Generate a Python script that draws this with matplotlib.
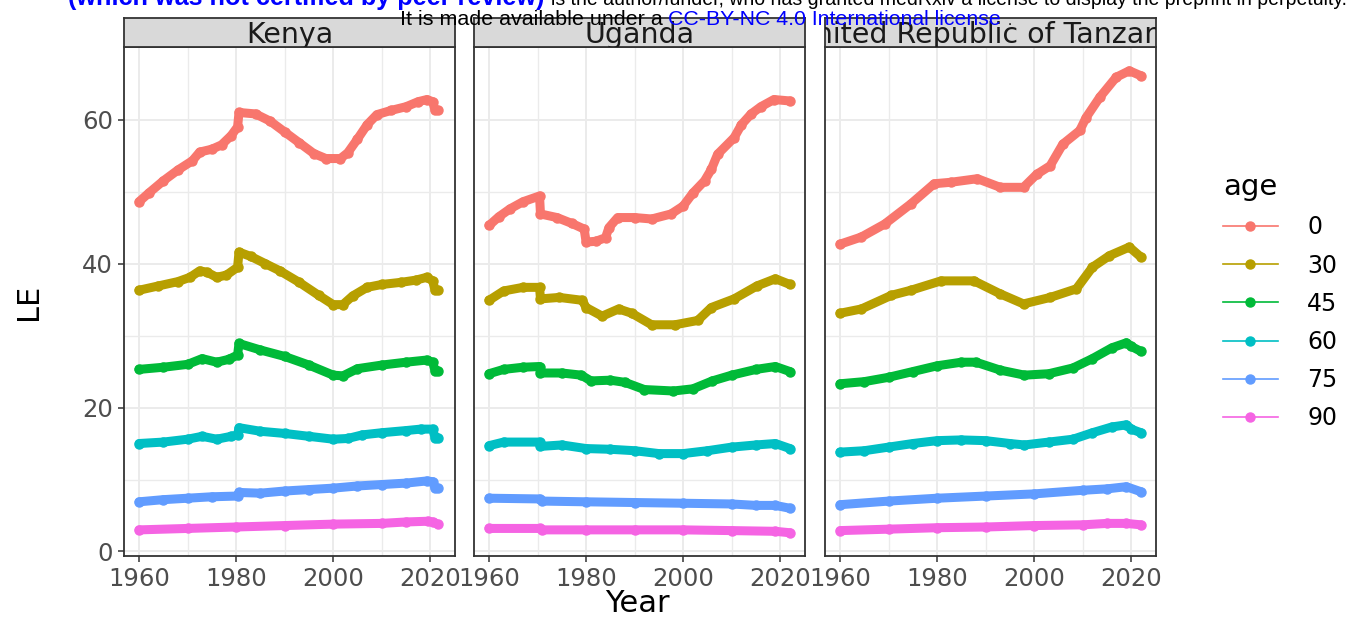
import matplotlib
matplotlib.use('Agg')
import matplotlib.pyplot as plt
from matplotlib.lines import Line2D

W, H, DPI = 1351, 617, 100

countries = ['Kenya', 'Uganda', 'United Republic of Tanzania']
ages = ['0', '30', '45', '60', '75', '90']
age_colors = ['#F8766D', '#B79F00', '#00BA38', '#00BFC4', '#619CFF', '#F564E3']

# life expectancy (year, LE)
ken_0 = [(1960, 48.6), (1962, 49.8), (1965, 51.5), (1968, 53.0), (1971, 54.3), (1972.5, 55.5),
         (1975, 55.9), (1977, 56.5), (1979, 57.8), (1980.3, 59.0), (1980.6, 61.0), (1984, 60.8),
         (1987, 59.8), (1990, 58.3), (1993, 56.8), (1996, 55.3), (1998.5, 54.6), (2001.5, 54.6),
         (2003, 55.4), (2005, 57.3), (2007, 59.3), (2009, 60.7), (2012, 61.3), (2015, 61.8),
         (2017.5, 62.5), (2019.3, 62.8), (2020.5, 62.5), (2021, 61.3), (2021.5, 61.3)]
ken_30 = [(1960, 36.3), (1964, 36.9), (1968, 37.5), (1970.5, 38.1), (1972.5, 39.0), (1974, 38.8),
          (1976, 38.1), (1978, 38.4), (1980.3, 39.5), (1980.6, 41.6), (1983, 41.0), (1986, 40.0),
          (1989, 39.0), (1993, 37.4), (1997, 35.6), (2000, 34.3), (2002, 34.3), (2004, 35.5),
          (2007, 36.7), (2010, 37.1), (2014, 37.4), (2017, 37.7), (2019.3, 38.1), (2020.5, 37.6),
          (2021, 36.3), (2021.5, 36.3)]
ken_45 = [(1960, 25.3), (1965, 25.6), (1970, 26.0), (1973, 26.8), (1976, 26.3), (1978.5, 26.7),
          (1980.3, 27.3), (1980.6, 28.9), (1985, 28.0), (1990, 27.1), (1995, 25.9), (2000, 24.5),
          (2002, 24.4), (2005, 25.4), (2010, 25.9), (2015, 26.3), (2019.3, 26.6), (2020.5, 26.3),
          (2021, 25.1), (2021.5, 25.1)]
ken_60 = [(1960, 15.0), (1965, 15.2), (1970, 15.6), (1973, 16.0), (1976, 15.6), (1979, 16.0),
          (1980.3, 16.2), (1980.6, 17.2), (1985, 16.7), (1990, 16.4), (1995, 16.0), (2000, 15.6),
          (2003, 15.7), (2006, 16.2), (2010, 16.5), (2015, 16.8), (2018, 17.0), (2020.5, 17.0),
          (2021, 15.8), (2021.5, 15.8)]
ken_75 = [(1960, 6.9), (1965, 7.2), (1970, 7.4), (1975, 7.6), (1980.3, 7.7), (1980.6, 8.2),
          (1985, 8.1), (1990, 8.4), (1995, 8.6), (2000, 8.8), (2005, 9.1), (2010, 9.3),
          (2015, 9.5), (2019.3, 9.8), (2020.5, 9.7), (2021, 8.8), (2021.5, 8.8)]
ken_90 = [(1960, 3.0), (1970, 3.2), (1980, 3.4), (1990, 3.6), (2000, 3.8), (2010, 3.9),
          (2015, 4.1), (2019.5, 4.2), (2020.5, 4.1), (2021.5, 3.8)]

uga_0 = [(1960, 45.3), (1962, 46.5), (1964.3, 47.6), (1967, 48.6), (1970.4, 49.4), (1970.6, 46.9),
         (1974, 46.4), (1977, 45.6), (1979.6, 44.8), (1980, 43.0), (1982, 43.1), (1984, 43.6),
         (1984.7, 45.0), (1986.5, 46.4), (1990, 46.4), (1993.5, 46.2), (1997.5, 46.9), (2000, 48.0),
         (2002, 49.8), (2004.4, 51.5), (2005.8, 53.1), (2007.1, 55.2), (2010.5, 57.5), (2012, 59.3),
         (2014, 60.8), (2016, 61.8), (2018.7, 62.8), (2022, 62.6)]
uga_30 = [(1960, 34.9), (1963, 36.2), (1967, 36.7), (1970.4, 36.7), (1970.6, 35.1), (1974.5, 35.3),
          (1979.2, 34.9), (1980, 33.9), (1983.3, 32.7), (1986.7, 33.7), (1989.4, 33.1), (1993.5, 31.5),
          (1998.3, 31.5), (2003, 32.1), (2005.8, 33.9), (2010.5, 35.1), (2015.2, 36.9), (2019, 37.9),
          (2022, 37.1)]
uga_45 = [(1960, 24.7), (1963, 25.3), (1967, 25.6), (1970.4, 25.7), (1970.6, 24.8), (1975, 24.8),
          (1979, 24.5), (1981, 23.7), (1985, 23.8), (1988, 23.5), (1992, 22.5), (1998, 22.3),
          (2002, 22.6), (2006, 23.7), (2010, 24.5), (2015, 25.3), (2019, 25.7), (2022, 25.0)]
uga_60 = [(1960, 14.7), (1963, 15.2), (1970.4, 15.2), (1970.6, 14.6), (1975, 14.8), (1980, 14.3),
          (1985, 14.2), (1990, 14.0), (1995, 13.6), (2000, 13.6), (2005, 14.0), (2010, 14.5),
          (2015, 14.8), (2019, 15.0), (2022, 14.3)]
uga_75 = [(1960, 7.4), (1970.4, 7.3), (1971, 7.0), (1980, 6.9), (1990, 6.8), (2000, 6.7),
          (2010, 6.6), (2015, 6.4), (2019, 6.4), (2022, 6.0)]
uga_90 = [(1960, 3.2), (1970.4, 3.2), (1971, 3.0), (1980, 3.0), (1990, 3.0), (2000, 3.0),
          (2010, 2.9), (2019, 2.8), (2022, 2.6)]

tza_0 = [(1960, 42.7), (1964.4, 43.7), (1969.2, 45.5), (1974.6, 48.3), (1979.4, 51.1), (1982.8, 51.3),
         (1988.3, 51.8), (1993, 50.6), (1997.8, 50.6), (2000.5, 52.4), (2003.3, 53.6), (2005.9, 56.6),
         (2009.4, 58.5), (2010.7, 60.3), (2013.5, 63.1), (2016.9, 65.9), (2019.6, 66.8), (2022, 66.1)]
tza_30 = [(1960, 33.1), (1964.4, 33.7), (1970.6, 35.6), (1974.6, 36.3), (1980.8, 37.6), (1987.6, 37.6),
          (1993, 35.8), (1997.8, 34.4), (2003.3, 35.3), (2008.7, 36.5), (2012, 39.5), (2015.5, 41.1),
          (2019.6, 42.3), (2022, 40.9)]
tza_45 = [(1960, 23.3), (1965, 23.6), (1970, 24.2), (1975, 25.0), (1980, 25.8), (1985, 26.3),
          (1988, 26.3), (1993, 25.2), (1998, 24.5), (2003, 24.7), (2008, 25.5), (2012, 26.8),
          (2016, 28.3), (2019, 29.0), (2020, 28.5), (2022, 27.8)]
tza_60 = [(1960, 13.8), (1965, 14.0), (1970, 14.5), (1975, 15.0), (1980, 15.4), (1985, 15.5),
          (1990, 15.4), (1995, 15.0), (1998, 14.8), (2003, 15.2), (2008, 15.6), (2012, 16.5),
          (2016, 17.3), (2019, 17.6), (2020, 17.0), (2022, 16.5)]
tza_75 = [(1960, 6.5), (1970, 7.0), (1980, 7.4), (1990, 7.7), (2000, 8.0), (2010, 8.5),
          (2015, 8.7), (2019, 9.0), (2022, 8.3)]
tza_90 = [(1960, 2.9), (1970, 3.1), (1980, 3.3), (1990, 3.4), (2000, 3.6), (2010, 3.7),
          (2015, 3.9), (2019, 3.9), (2022, 3.7)]

series = {
    'Kenya': [ken_0, ken_30, ken_45, ken_60, ken_75, ken_90],
    'Uganda': [uga_0, uga_30, uga_45, uga_60, uga_75, uga_90],
    'United Republic of Tanzania': [tza_0, tza_30, tza_45, tza_60, tza_75, tza_90],
}

fig = plt.figure(figsize=(W / DPI, H / DPI), dpi=DPI)
plt.rcParams['font.family'] = 'DejaVu Sans'


def px_rect(left, top, right, bottom):
    return [left / W, 1 - bottom / H, (right - left) / W, (bottom - top) / H]


panel_lefts = [124, 474, 825]
panel_w = 331
panel_top, panel_bottom = 47, 556
strip_top = 18

for i, name in enumerate(countries):
    left = panel_lefts[i]
    ax = fig.add_axes(px_rect(left, panel_top, left + panel_w, panel_bottom))
    for pts, col in zip(series[name], age_colors):
        xs = [p[0] for p in pts]
        ys = [p[1] for p in pts]
        ax.plot(xs, ys, color=col, lw=6.5, marker='o', markersize=6.5,
                solid_joinstyle='round', solid_capstyle='round', zorder=3)
    ax.set_xlim(1956.9, 2025.1)
    ax.set_ylim(-0.63, 70.1)
    ax.set_xticks([1960, 1980, 2000, 2020])
    ax.set_xticks([1970, 1990, 2010], minor=True)
    ax.set_yticks([0, 20, 40, 60])
    ax.set_yticks([10, 30, 50], minor=True)
    ax.grid(which='major', color='#EBEBEB', lw=1.4, zorder=0)
    ax.grid(which='minor', color='#EBEBEB', lw=1.0, zorder=0)
    ax.set_axisbelow(True)
    for s in ax.spines.values():
        s.set_color('#333333')
        s.set_linewidth(1.3)
    ax.tick_params(which='major', length=4, width=1.1, color='#333333',
                   labelsize=17.5, labelcolor='#4D4D4D', pad=4)
    ax.tick_params(which='minor', length=0)
    if i > 0:
        ax.tick_params(axis='y', which='both', length=0, labelleft=False)

    # facet strip
    sax = fig.add_axes(px_rect(left, strip_top, left + panel_w, panel_top))
    sax.set_facecolor('#D9D9D9')
    sax.set_xticks([])
    sax.set_yticks([])
    for s in sax.spines.values():
        s.set_color('#333333')
        s.set_linewidth(1.3)
    sax.text(0.5, 0.42, name, transform=sax.transAxes, ha='center', va='center',
             fontsize=20.5, color='#1A1A1A', clip_on=True)

fig.text(637 / W, 1 - 603 / H, 'Year', ha='center', va='center', fontsize=22)
fig.text(28 / W, 1 - 302 / H, 'LE', ha='center', va='center', fontsize=22, rotation=90)

handles = [Line2D([], [], color=c, lw=1.2, marker='o', markersize=6.5) for c in age_colors]
fig.legend(handles, ages, title='age', loc='upper left',
           bbox_to_anchor=(1202 / W, 1 - 152 / H), frameon=False,
           fontsize=17, title_fontsize=21, handlelength=2.3, handletextpad=1.25,
           labelspacing=0.6, alignment='left')

# medRxiv banner over the top edge, each piece fitted to its span
renderer = fig.canvas.get_renderer()


def banner_piece(txt, color, weight, x0, x1, y_base):
    probe = fig.text(0, 0, 'X' + txt + 'X', fontsize=10, family='Liberation Sans', fontweight=weight)
    w_full = probe.get_window_extent(renderer=renderer).width
    probe.set_text('XX')
    w_xx = probe.get_window_extent(renderer=renderer).width
    probe.remove()
    size = 10 * (x1 - x0) / (w_full - w_xx)
    fig.text(x0 / W, 1 - y_base / H, txt, color=color, fontweight=weight,
             fontsize=size, family='Liberation Sans', va='baseline', ha='left')


banner_piece('(which was not certified by peer review)', '#0000FF', 'bold', 68, 545, 5)
banner_piece('is the author/funder, who has granted medRxiv a license to display the preprint in perpetuity.',
             'black', 'normal', 551, 1348, 5)
banner_piece('It is made available under a', 'black', 'normal', 400, 664, 25)
banner_piece('CC-BY-NC 4.0 International license', '#0000FF', 'normal', 668, 1002, 25)
banner_piece('.', 'black', 'normal', 1008, 1012, 25)

fig.savefig('out.png', dpi=DPI)
